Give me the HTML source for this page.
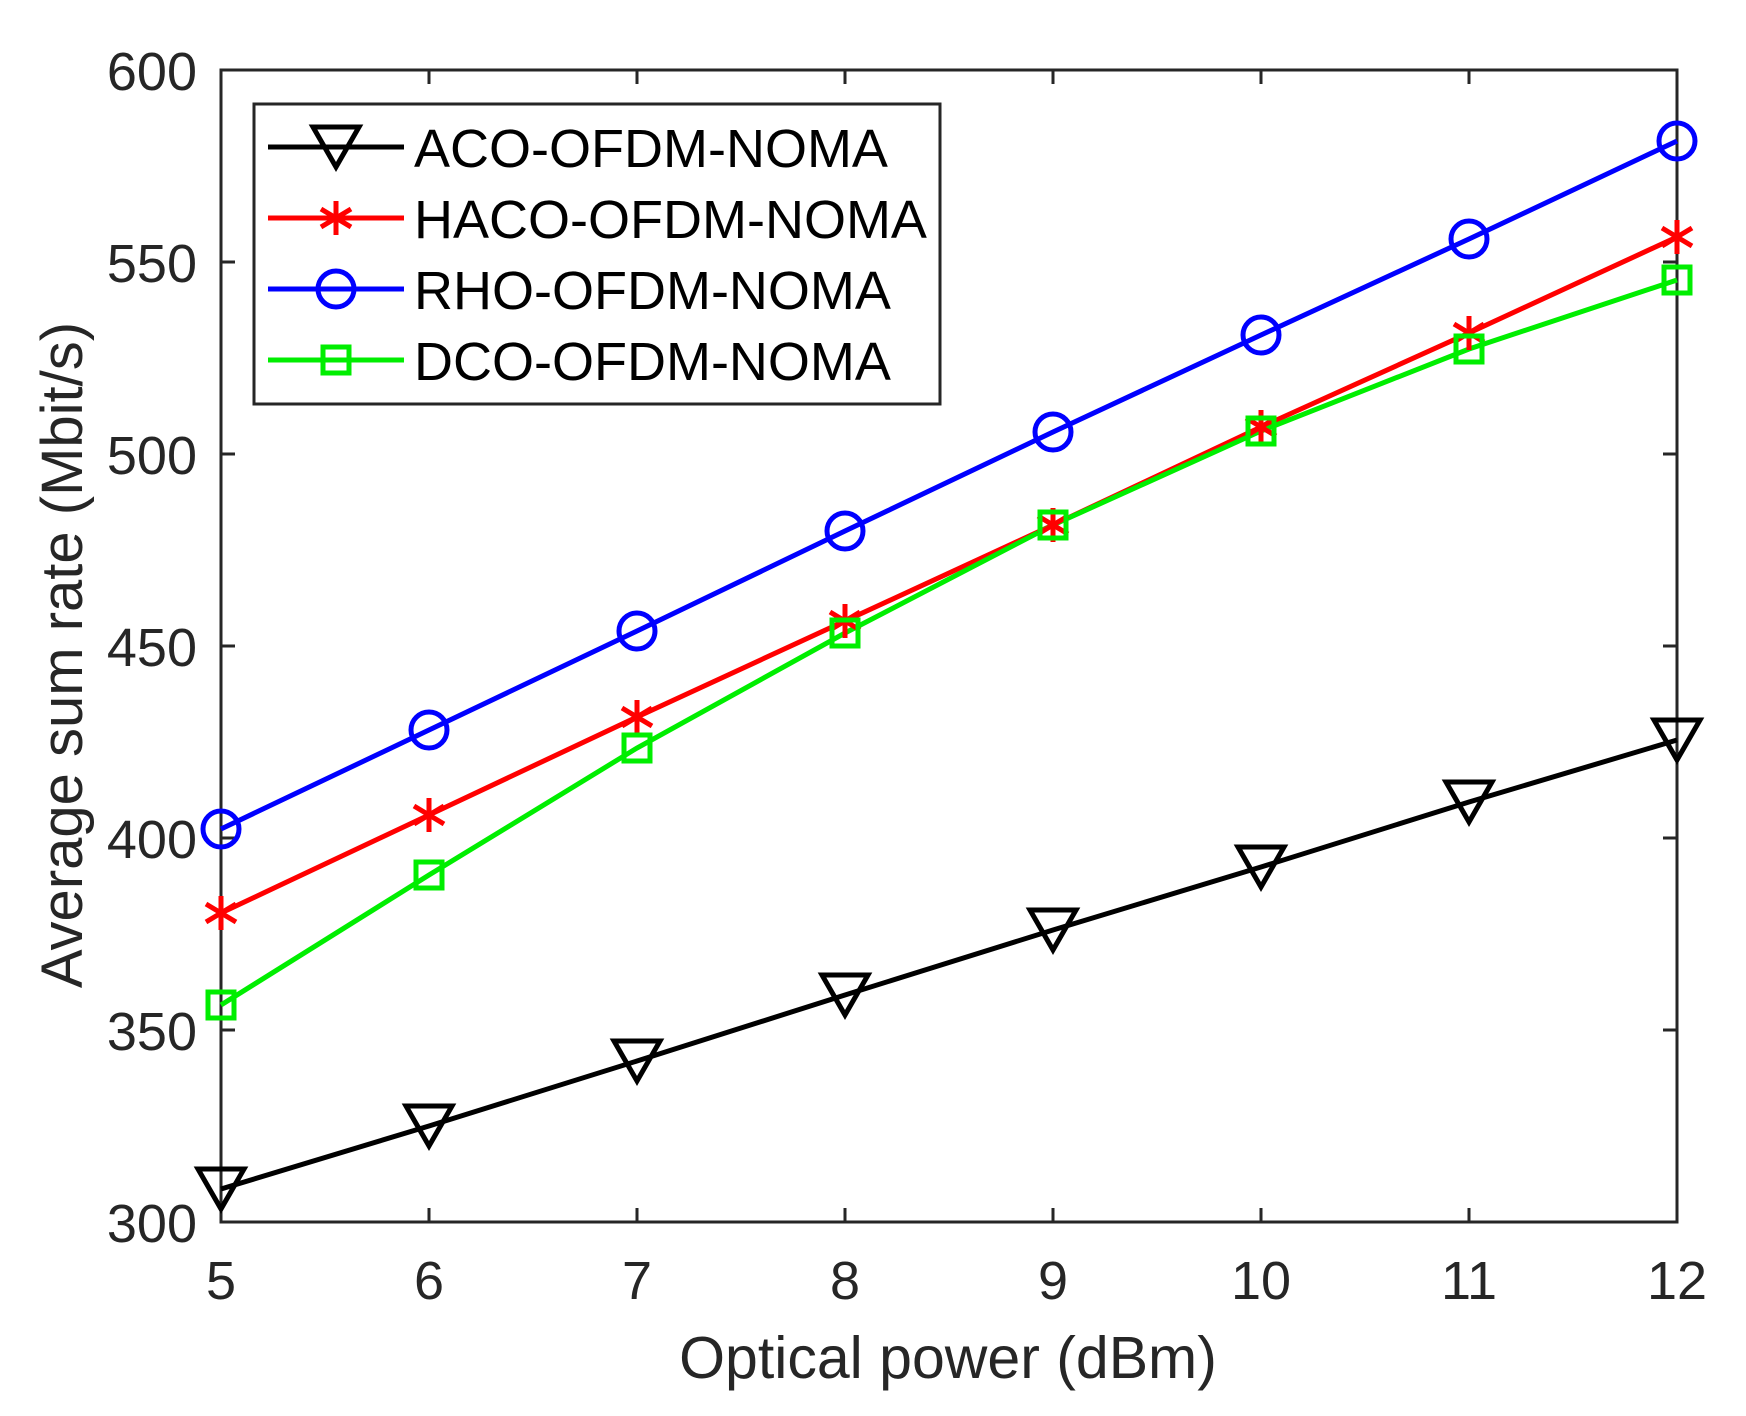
<!DOCTYPE html>
<html><head><style>body{margin:0;background:#fff}svg{display:block}</style></head><body>
<svg width="1746" height="1416" xmlns="http://www.w3.org/2000/svg" font-family="Liberation Sans, sans-serif">
<rect width="1746" height="1416" fill="#fff"/>
<defs>
<g id="tri"><path d="M-23,-20 L23,-20 L0,20 Z" fill="none" stroke="#000" stroke-width="5"/></g>
<g id="star" stroke="#f00" stroke-width="5"><path d="M0,-17V17M-15,-9L15,9M-15,9L15,-9"/></g>
<g id="circ"><circle r="18" fill="none" stroke="#00f" stroke-width="5"/></g>
<g id="sq"><rect x="-13" y="-13" width="26" height="26" fill="none" stroke="#0e0" stroke-width="5"/></g>
</defs>
<g stroke="#262626" stroke-width="3" fill="none">
<rect x="221" y="70" width="1456" height="1152"/>
<path d="M429,70v14M637,70v14M845,70v14M1053,70v14M1261,70v14M1469,70v14M429,1222v-14M637,1222v-14M845,1222v-14M1053,1222v-14M1261,1222v-14M1469,1222v-14
M221,262h14M221,454h14M221,646h14M221,838h14M221,1030h14M1677,262h-14M1677,454h-14M1677,646h-14M1677,838h-14M1677,1030h-14"/>
</g>
<g fill="#262626" font-size="54" text-anchor="end">
<text x="197" y="90">600</text><text x="197" y="282">550</text><text x="197" y="474">500</text><text x="197" y="666">450</text><text x="197" y="858">400</text><text x="197" y="1050">350</text><text x="197" y="1242">300</text>
</g>
<g fill="#262626" font-size="54" text-anchor="middle">
<text x="221" y="1299">5</text><text x="429" y="1299">6</text><text x="637" y="1299">7</text><text x="845" y="1299">8</text><text x="1053" y="1299">9</text><text x="1261" y="1299">10</text><text x="1469" y="1299">11</text><text x="1677" y="1299">12</text>
<text x="948" y="1378" font-size="59">Optical power (dBm)</text>
<text transform="translate(82,655) rotate(-90)" font-size="58">Average sum rate (Mbit/s)</text>
</g>
<g fill="none" stroke-width="5">
<polyline stroke="#000" points="221,1189 429,1126 637,1061 845,995 1053,930 1261,867 1469,802 1677,740"/>
<polyline stroke="#f00" points="221,913 429,815 637,717 845,621 1053,525 1261,427 1469,333 1677,237"/>
<polyline stroke="#00f" points="221,829 429,730 637,631 845,531 1053,432 1261,335 1469,239 1677,141"/>
<polyline stroke="#0e0" points="221,1005 429,875 637,748 845,633 1053,525 1261,431 1469,349 1677,280"/>
</g>
<g>
<use href="#tri" x="221" y="1189"/><use href="#tri" x="429" y="1126"/><use href="#tri" x="637" y="1061"/><use href="#tri" x="845" y="995"/><use href="#tri" x="1053" y="930"/><use href="#tri" x="1261" y="867"/><use href="#tri" x="1469" y="802"/><use href="#tri" x="1677" y="740"/>
<use href="#star" x="221" y="913"/><use href="#star" x="429" y="815"/><use href="#star" x="637" y="717"/><use href="#star" x="845" y="621"/><use href="#star" x="1053" y="525"/><use href="#star" x="1261" y="427"/><use href="#star" x="1469" y="333"/><use href="#star" x="1677" y="237"/>
<use href="#circ" x="221" y="829"/><use href="#circ" x="429" y="730"/><use href="#circ" x="637" y="631"/><use href="#circ" x="845" y="531"/><use href="#circ" x="1053" y="432"/><use href="#circ" x="1261" y="335"/><use href="#circ" x="1469" y="239"/><use href="#circ" x="1677" y="141"/>
<use href="#sq" x="221" y="1005"/><use href="#sq" x="429" y="875"/><use href="#sq" x="637" y="748"/><use href="#sq" x="845" y="633"/><use href="#sq" x="1053" y="525"/><use href="#sq" x="1261" y="431"/><use href="#sq" x="1469" y="349"/><use href="#sq" x="1677" y="280"/>
</g>
<rect x="254" y="104" width="686" height="300" fill="#fff" stroke="#262626" stroke-width="3"/>
<g stroke-width="5">
<path d="M268,147H404" stroke="#000"/><use href="#tri" x="336" y="147"/>
<path d="M268,218H404" stroke="#f00"/><use href="#star" x="336" y="218"/>
<path d="M268,289H404" stroke="#00f"/><use href="#circ" x="336" y="289"/>
<path d="M268,360H404" stroke="#0e0"/><use href="#sq" x="336" y="360"/>
</g>
<g font-size="54" fill="#000">
<text x="414" y="167">ACO-OFDM-NOMA</text>
<text x="414" y="238">HACO-OFDM-NOMA</text>
<text x="414" y="309">RHO-OFDM-NOMA</text>
<text x="414" y="380">DCO-OFDM-NOMA</text>
</g>
</svg>
</body></html>
